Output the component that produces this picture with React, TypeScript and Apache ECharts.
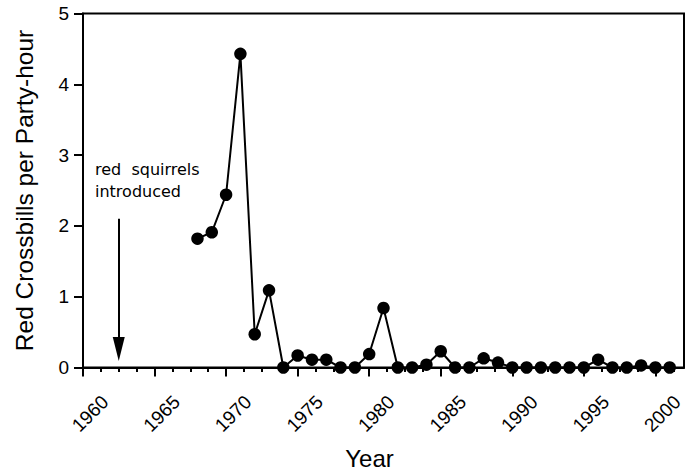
import React, { useEffect, useRef } from "react";
import * as echarts from "echarts";

const years: number[] = [
  1968, 1969, 1970, 1971, 1972, 1973, 1974, 1975, 1976, 1977, 1978, 1979,
  1980, 1981, 1982, 1983, 1984, 1985, 1986, 1987, 1988, 1989, 1990, 1991,
  1992, 1993, 1994, 1995, 1996, 1997, 1998, 1999, 2000, 2001,
];
const crossbills: number[] = [
  1.82, 1.91, 2.44, 4.43, 0.47, 1.09, 0, 0.17, 0.11, 0.11, 0, 0,
  0.19, 0.84, 0, 0, 0.04, 0.23, 0, 0, 0.13, 0.07, 0, 0,
  0, 0, 0, 0, 0.11, 0, 0, 0.03, 0, 0,
];
const xMajorTicks: number[] = [1960, 1965, 1970, 1975, 1980, 1985, 1990, 1995, 2000];
const xMinorTicks: number[] = [
  1961.25, 1962.5, 1963.75, 1966.25, 1967.5, 1968.75, 1971.25, 1972.5, 1973.75,
  1976.25, 1977.5, 1978.75, 1981.25, 1982.5, 1983.75, 1986.25, 1987.5, 1988.75,
  1991.25, 1992.5, 1993.75, 1996.25, 1997.5, 1998.75, 2001.25,
];
const xRange: number[] = [1960, 2002];
const yRange: number[] = [0, 5];
const arrowYear = 1962.5;
const arrowFrom = 2.1;
const arrowTo = 0.26;
const noteLines: string[] = ["red  squirrels", "introduced"];

export default function App() {
  const ref = useRef<HTMLDivElement>(null);
  useEffect(() => {
    if (!ref.current) return;
    document.body.style.margin = "0";
    const chart = echarts.init(ref.current, undefined, { renderer: "svg" });
    const font = "'Liberation Sans', Arial, Helvetica, sans-serif";
    chart.setOption({
      animation: false,
      backgroundColor: "#fff",
      textStyle: { fontFamily: font, color: "#000" },
      grid: {
        left: 83,
        right: 10,
        top: 13.5,
        bottom: 103.5,
        outerBoundsMode: "none",
        containLabel: false,
        show: true,
        borderColor: "#000",
        borderWidth: 2,
        backgroundColor: "transparent",
      },
      xAxis: [
        {
          type: "value",
          min: xRange[0],
          max: xRange[1],
          interval: 5,
          name: "Year",
          nameLocation: "middle",
          nameGap: 79,
          nameTextStyle: {
            fontSize: 24,
            fontFamily: font,
            color: "#000",
            padding: [0, 28, 0, 0],
          },
          splitLine: { show: false },
          axisLine: { show: true, lineStyle: { color: "#000", width: 2 } },
          axisTick: {
            show: true,
            length: 9,
            lineStyle: { color: "#000", width: 2 },
            customValues: xMajorTicks,
          },
          axisLabel: {
            customValues: xMajorTicks,
            formatter: (v: number) => String(v),
            rotate: 45,
            align: "center",
            verticalAlign: "top",
            lineHeight: 20,
            margin: 39,
            fontSize: 19,
            fontFamily: font,
            color: "#000",
          },
        },
        {
          type: "value",
          min: xRange[0],
          max: xRange[1],
          interval: 1.25,
          position: "bottom",
          splitLine: { show: false },
          axisLine: { show: false },
          axisLabel: { show: false },
          axisTick: {
            show: true,
            length: 4.5,
            lineStyle: { color: "#000", width: 2 },
            customValues: xMinorTicks,
          },
        },
      ],
      yAxis: {
        type: "value",
        min: yRange[0],
        max: yRange[1],
        interval: 1,
        name: "Red Crossbills per Party-hour",
        nameLocation: "middle",
        nameGap: 46,
        nameTextStyle: { fontSize: 24.5, fontFamily: font, color: "#000" },
        splitLine: { show: false },
        axisLine: { show: true, lineStyle: { color: "#000", width: 2 } },
        axisTick: { show: true, length: 9, lineStyle: { color: "#000", width: 2 } },
        axisLabel: { margin: 14, fontSize: 19, fontFamily: font, color: "#000" },
      },
      graphic: noteLines.map((t, i) => ({
        type: "text",
        x: 95,
        y: 169.5 + i * 21.7,
        style: {
          text: t,
          fontSize: 16,
          fontFamily: "'DejaVu Sans', sans-serif",
          fill: "#000",
          align: "left",
          verticalAlign: "middle",
        },
      })),
      series: [
        {
          type: "line",
          xAxisIndex: 0,
          data: years.map((y, i) => [y, crossbills[i]]),
          symbol: "circle",
          symbolSize: 12.5,
          itemStyle: { color: "#000" },
          lineStyle: { color: "#000", width: 2 },
          z: 5,
          markLine: {
            silent: true,
            symbol: ["none", "triangle"],
            label: { show: false },
            lineStyle: { color: "#000", width: 2, type: "solid" },
            data: [
              [
                { coord: [arrowYear, arrowFrom], symbol: "none" },
                { coord: [arrowYear, arrowTo], symbol: "triangle", symbolSize: [12, 24] },
              ],
            ],
          },
        },
      ],
    });
    return () => chart.dispose();
  }, []);
  return <div ref={ref} style={{ width: 694, height: 471 }} />;
}
